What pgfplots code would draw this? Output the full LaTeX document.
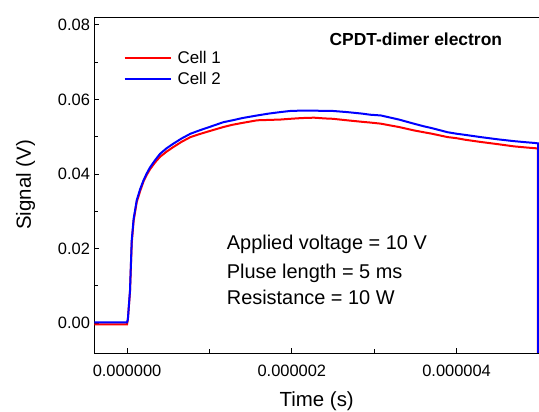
\documentclass[border=0pt]{standalone}
\usepackage{pgfplots}
\pgfplotsset{compat=1.18}
\usepackage{fontspec}
\setmainfont{Liberation Sans}
\pgfplotstableread{
t v
-0.395 0.0002
0 0.0002
0.01 0.001
0.036 0.0088
0.057 0.0222
0.08 0.028
0.118 0.033
0.16 0.036
0.2 0.0383
0.24 0.0402
0.28 0.0418
0.34 0.0437
0.40 0.0454
0.48 0.0469
0.56 0.0481
0.66 0.0495
0.77 0.0508
0.88 0.0517
1.0 0.0526
1.17 0.0539
1.28 0.0544
1.4 0.0550
1.58 0.0557
1.72 0.0562
1.86 0.0566
1.98 0.0569
2.12 0.0570
2.27 0.0570
2.4 0.0569
2.5 0.0569
2.67 0.0566
2.85 0.0562
2.95 0.0559
3.08 0.0557
3.2 0.0551
3.3 0.0546
3.48 0.0535
3.6 0.0528
3.7 0.0523
3.89 0.0512
4.0 0.0508
4.1 0.0505
4.29 0.0499
4.5 0.0493
4.70 0.0488
4.85 0.0485
4.96 0.0483
4.99 0.0482
4.99 -0.012
}\blue
\pgfplotstableread{
t v
-0.395 -0.0003
0 -0.0003
0.01 0.001
0.036 0.0085
0.057 0.0215
0.08 0.0275
0.118 0.0325
0.16 0.0355
0.2 0.038
0.24 0.0398
0.28 0.0413
0.34 0.0431
0.40 0.0446
0.48 0.0460
0.56 0.0472
0.66 0.0486
0.77 0.0499
0.88 0.0507
1.0 0.0515
1.17 0.0526
1.28 0.0532
1.4 0.0537
1.58 0.0544
1.72 0.0545
1.86 0.0546
1.98 0.0548
2.12 0.0550
2.27 0.0551
2.4 0.0549
2.5 0.0548
2.67 0.0544
2.85 0.0540
2.95 0.0538
3.08 0.0535
3.2 0.0530
3.3 0.0526
3.48 0.0517
3.6 0.0512
3.7 0.0508
3.89 0.0499
4.0 0.0496
4.1 0.0492
4.29 0.0486
4.5 0.0480
4.70 0.0474
4.85 0.0471
4.96 0.0469
4.985 0.0469
4.985 -0.012
}\red
\begin{document}
\begin{tikzpicture}
\begin{axis}[
  name=ax,
  scale only axis,
  width=444.5bp, height=336bp,
  xmin=-0.395, xmax=5.0,
  ymin=-0.008, ymax=0.0821,
  axis y line*=left,
  xtick pos=bottom, ytick pos=left,
  scaled x ticks=false, scaled y ticks=false,
  xtick={0,2,4}, xticklabels={0.000000,0.000002,0.000004},
  minor xtick={1,3},
  ytick={0,0.02,0.04,0.06,0.08}, yticklabels={0.00,0.02,0.04,0.06,0.08},
  minor ytick={0.01,0.03,0.05,0.07},
  major tick length=5bp, minor tick length=3.5bp,
  tick style={black, line width=0.8bp},
  axis line style={black, line width=0.8bp},
  tick label style={font=\fontsize{16.5}{19}\selectfont},
  xticklabel style={yshift=-9bp},
  yticklabel style={xshift=-1bp},
  xlabel={Time (s)}, ylabel={Signal (V)},
  label style={font=\fontsize{20.5}{24}\selectfont},
  xlabel style={yshift=-8bp},
  ylabel style={yshift=16bp},
  legend style={draw=none, fill=none, at={(rel axis cs:0.065,0.905)}, anchor=north west,
    font=\fontsize{17}{20}\selectfont, row sep=3.5bp, inner sep=0pt},
  legend cell align=left,
  legend image code/.code={\draw[#1, line width=2bp] (0bp,0bp) -- (46bp,0bp); \path (50bp,0bp);},
]
\addplot[red, line width=2bp] table[x=t,y=v] {\red};
\addplot[blue, line width=2bp] table[x=t,y=v] {\blue};
\legend{Cell 1, Cell 2}
\node[anchor=base, font=\fontsize{17.5}{20}\bfseries\selectfont] at (rel axis cs:0.723,0.9137) {CPDT-dimer electron};
\node[anchor=base west, inner sep=0pt, font=\fontsize{20}{24}\selectfont] at (rel axis cs:0.2974,0.3095) {Applied voltage = 10 V};
\node[anchor=base west, inner sep=0pt, font=\fontsize{20}{24}\selectfont] at (rel axis cs:0.2974,0.2223) {Pluse length = 5 ms};
\node[anchor=base west, inner sep=0pt, font=\fontsize{20}{24}\selectfont] at (rel axis cs:0.2974,0.1429) {Resistance = 10 W};
\end{axis}
\pgfresetboundingbox
\path[use as bounding box] ([shift={(-94.5bp,-59bp)}]ax.south west) rectangle ([shift={(0bp,17bp)}]ax.north east);
\end{tikzpicture}
\end{document}
